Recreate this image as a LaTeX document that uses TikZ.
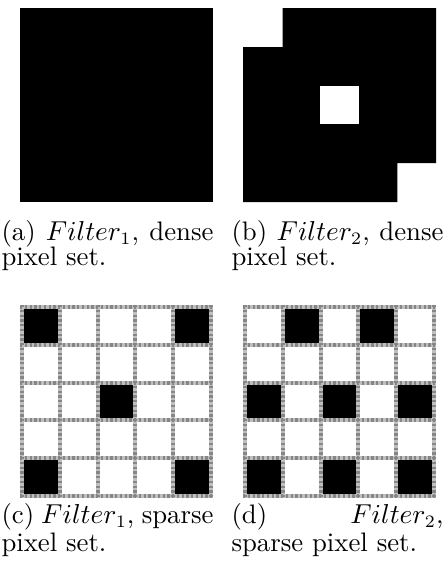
\documentclass[tikz,border=0pt]{standalone}
\usetikzlibrary{calc}
\tikzset{
  blk/.style={fill=black,draw=none},
  gridbase/.style={draw=gray!50,line width=1.6pt},
  griddash/.style={draw=gray!95,line width=1.6pt,dash pattern=on 0.95pt off 0.95pt},
  captext/.style={anchor=base west,inner sep=0pt,font=\fontsize{10.7}{12}\selectfont},
}
\newcommand{\capline}[1]{\makebox[84.8pt][s]{#1}}
\begin{document}
\begin{tikzpicture}[x=0.4pt,y=-0.4pt]
\useasboundingbox (0,0) rectangle (445,575);
% (a) dense filter 1
\fill[blk] (20,8) rectangle (213,202);
% (b) dense filter 2
\fill[blk] (282.6,8) -- (436,8) -- (436,163.2) -- (397.4,163.2) -- (397.4,202) -- (243,202) -- (243,47) -- (282.6,47) -- cycle;
\fill[white] (320.2,85.6) rectangle (358.8,124.4);
% sparse grids
\def\cellsz{37.8}
\foreach \ox/\oy/\cells in {22/307/{0/0,4/0,2/2,0/4,4/4}, 245/307/{1/0,3/0,0/2,2/2,4/2,0/4,2/4,4/4}}{
  \foreach \c/\r in \cells {
    \fill[blk] ({\ox+\c*\cellsz},{\oy+\r*\cellsz}) rectangle ({\ox+(\c+1)*\cellsz},{\oy+(\r+1)*\cellsz});
  }
  \foreach \i in {0,...,5}{
    \draw[gridbase] ({\ox+\i*\cellsz},{\oy-2}) -- ({\ox+\i*\cellsz},{\oy+5*\cellsz+2});
    \draw[gridbase] ({\ox-2},{\oy+\i*\cellsz}) -- ({\ox+5*\cellsz+2},{\oy+\i*\cellsz});
  }
  \foreach \i in {0,...,5}{
    \draw[griddash] ({\ox+\i*\cellsz},{\oy-2}) -- ({\ox+\i*\cellsz},{\oy+5*\cellsz+2});
    \draw[griddash] ({\ox-2},{\oy+\i*\cellsz}) -- ({\ox+5*\cellsz+2},{\oy+\i*\cellsz});
  }
}
% captions
\node[captext] (a1) at (1,240.5) {\capline{(a) $Filter_1$, dense}};
\node[captext] (a2) at (1,265.5) {pixel set.};
\node[captext] (b1) at (231,240.5) {\capline{(b) $Filter_2$, dense}};
\node[captext] (b2) at (231,265.5) {pixel set.};
\node[captext] (c1) at (1,523.5) {\capline{(c) $Filter_1$, sparse}};
\node[captext] (c2) at (1,551) {pixel set.};
\node[captext] (d1) at (231,523.5) {\capline{(d) $Filter_2$,}};
\node[captext] (d2) at (231,551) {sparse pixel set.};
\end{tikzpicture}
\end{document}
